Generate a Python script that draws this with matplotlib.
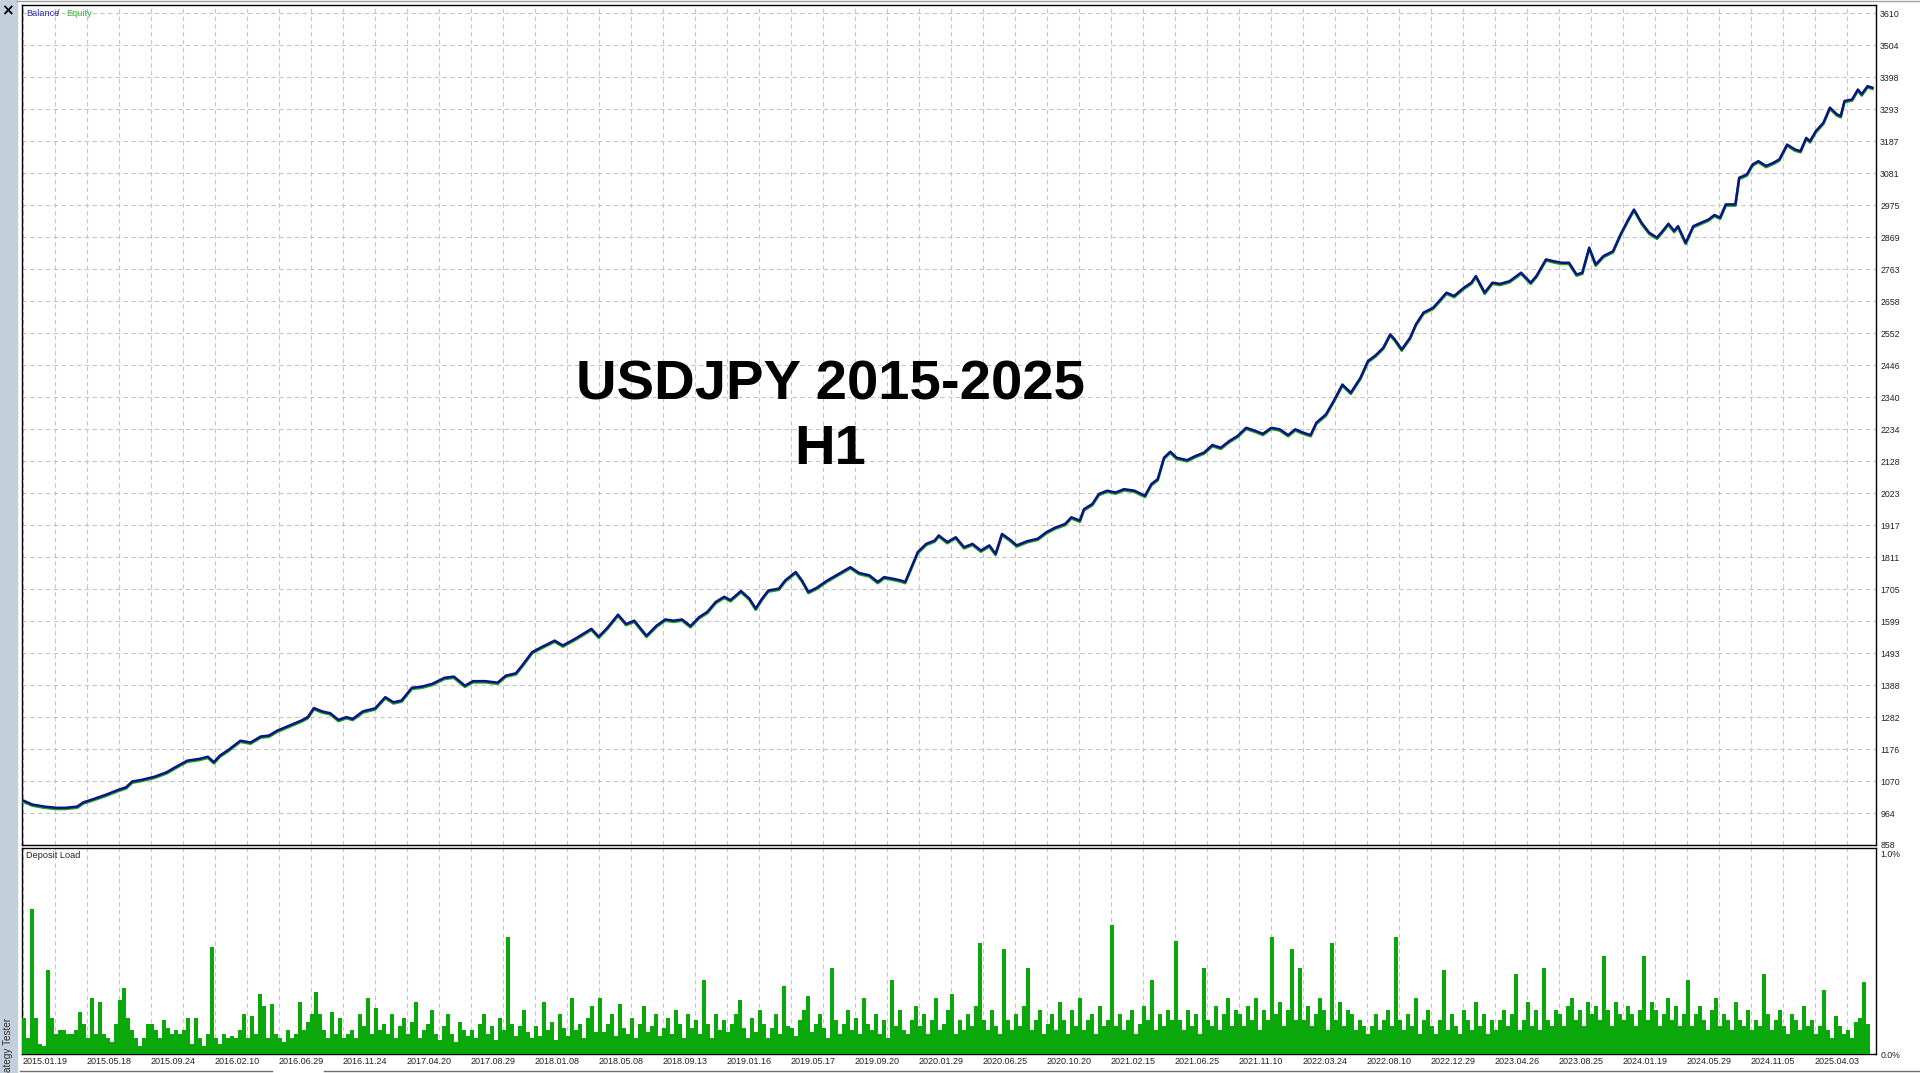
import numpy as np
import matplotlib.pyplot as plt
import matplotlib.transforms as mtransforms
from matplotlib.patches import Rectangle

plt.rcParams['font.family'] = ['Liberation Sans', 'DejaVu Sans']

# balance curve (x = position along the deal axis)
balance_x = [1.3, 10.2, 22.5, 34.7, 42.9, 55.1, 61.3, 71.5, 83.7, 96, 104.1, 110.2, 120.4, 132.7,
             144.9, 153.1, 165.3, 177.6, 185.8, 191.9, 198, 206.2, 218.4, 228.6, 238.8, 247, 255.1,
             267.4, 279.6, 285.8, 291.9, 300, 308.2, 316.4, 324.5, 330.7, 340.9, 353.1, 363.3, 371.5,
             379.6, 389.8, 400, 410.2, 422.5, 431.9, 442.9, 451.1, 463.3, 475.6, 483.7, 493.9, 500,
             510.2, 520.4, 532.7, 540.9, 553.1, 569.4, 576.8, 585.8, 596, 604.1, 612.3, 624.5, 634.7,
             643.3, 651.7, 660.1, 668.5, 676.9, 685.3, 693.8, 702.2, 708.5, 719, 727.4, 733.7, 740.1,
             746.4, 756.9, 763.2, 773.7, 780, 786.4, 794.8, 805.3, 815.8, 828.4, 836.9, 847.4, 855.8,
             862.1, 870.5, 878.9, 883.2, 889.5, 895.8, 904.2, 912.6, 916.8, 925.3, 933.7, 942.1, 950.5,
             958.9, 967.3, 973.6, 980, 988.4, 994.7, 1005.2, 1015.7, 1024.1, 1032.6, 1043.1, 1049.4,
             1057.8, 1062, 1070.4, 1076.8, 1085.2, 1093.6, 1102, 1112.5, 1123, 1129.4, 1135.7, 1142,
             1148.3, 1154.6, 1165.1, 1173.6, 1182, 1190.4, 1198.8, 1207.2, 1215.6, 1224.1, 1232.5,
             1240.9, 1249.3, 1257.7, 1266.1, 1273.3, 1281, 1288.6, 1294.4, 1303.9, 1311.6, 1320.4,
             1328.8, 1338.4, 1346, 1353.7, 1361.3, 1368.2, 1372.8, 1379.7, 1388.1, 1393.9, 1401.5,
             1411.1, 1418.7, 1424.5, 1432.1, 1441.7, 1449.4, 1453.9, 1462.7, 1470.4, 1478.1, 1487.6,
             1499.1, 1508.7, 1514.4, 1524, 1531.6, 1539.3, 1547, 1554.6, 1560.3, 1567.2, 1573.7,
             1581.4, 1591, 1598.6, 1606.3, 1612, 1619.6, 1627.3, 1635, 1640.7, 1646.4, 1652.2, 1656,
             1663.7, 1671.3, 1679, 1686.6, 1692.4, 1698.1, 1703.8, 1713.4, 1717.2, 1724.9, 1730.6,
             1736.4, 1744, 1751.7, 1757.4, 1765.1, 1772.7, 1778.5, 1784.2, 1788, 1793.8, 1801.4,
             1807.9, 1814.8, 1818.7, 1822.5, 1830.1, 1835.9, 1839.7, 1845.5, 1850.4]
balance = [1005, 992, 985, 981, 981, 985, 999, 1010, 1024, 1040, 1049, 1068, 1074, 1084,
           1099, 1115, 1137, 1143, 1150, 1132, 1154, 1172, 1203, 1197, 1217, 1220, 1236,
           1253, 1270, 1281, 1311, 1300, 1294, 1272, 1281, 1275, 1300, 1310, 1347, 1330,
           1336, 1378, 1382, 1391, 1411, 1415, 1385, 1400, 1400, 1395, 1418, 1426, 1451,
           1496, 1514, 1534, 1518, 1540, 1573, 1547, 1578, 1620, 1589, 1600, 1550, 1584,
           1604, 1600, 1604, 1582, 1611, 1629, 1662, 1679, 1668, 1698, 1673, 1640, 1673,
           1700, 1706, 1733, 1761, 1733, 1695, 1709, 1733, 1753, 1777, 1758, 1750, 1728,
           1744, 1739, 1733, 1728, 1777, 1827, 1854, 1865, 1882, 1860, 1876, 1843, 1854,
           1832, 1849, 1821, 1887, 1867, 1849, 1863, 1871, 1892, 1907, 1920, 1942,
           1931, 1969, 1986, 2019, 2030, 2024, 2035, 2030, 2013, 2052, 2068, 2139,
           2159, 2139, 2131, 2145, 2156, 2181, 2172, 2194, 2211, 2238, 2229,
           2218, 2238, 2233, 2214, 2233, 2222, 2214, 2255, 2282, 2326, 2381,
           2354, 2403, 2459, 2478, 2503, 2547, 2530, 2497, 2536, 2580, 2619,
           2635, 2663, 2685, 2674, 2701, 2718, 2740, 2685, 2718, 2714, 2723,
           2751, 2718, 2740, 2795, 2789, 2784, 2784, 2745, 2751, 2834, 2778,
           2806, 2822, 2878, 2927, 2960, 2916, 2883, 2867, 2889, 2913, 2889, 2905,
           2850, 2905, 2916, 2927, 2942, 2933, 2977, 2977, 3065, 3076, 3109,
           3120, 3104, 3115, 3126, 3175, 3159, 3153, 3197, 3186, 3219, 3247,
           3297, 3275, 3269, 3319, 3324, 3357, 3341, 3368, 3363]

y_labels = ['858', '964', '1070', '1176', '1282', '1388', '1493', '1599', '1705', '1811',
            '1917', '2023', '2128', '2234', '2340', '2446', '2552', '2658', '2763', '2869',
            '2975', '3081', '3187', '3293', '3398', '3504', '3610']

date_labels = ['2015.01.19', '2015.05.18', '2015.09.24', '2016.02.10', '2016.06.29', '2016.11.24',
               '2017.04.20', '2017.08.29', '2018.01.08', '2018.05.08', '2018.09.13', '2019.01.16',
               '2019.05.17', '2019.09.20', '2020.01.29', '2020.06.25', '2020.10.20', '2021.02.15',
               '2021.06.25', '2021.11.10', '2022.03.24', '2022.08.10', '2022.12.29', '2023.04.26',
               '2023.08.25', '2024.01.19', '2024.05.29', '2024.11.05', '2025.04.03']

# deposit load in hundredths of a percent, one row per date interval
load_rows = [
    [18, 8, 72, 18, 5, 4, 42, 18, 10, 12, 12, 10, 10, 12, 21, 15],
    [8, 28, 10, 26, 10, 8, 6, 15, 27, 33, 18, 12, 8, 4, 8, 15],
    [15, 12, 8, 17, 13, 10, 12, 10, 12, 18, 5, 18, 8, 4, 10, 53],
    [8, 5, 10, 8, 9, 8, 12, 20, 8, 19, 10, 30, 24, 8, 25, 10],
    [8, 6, 12, 8, 10, 26, 12, 16, 20, 31, 20, 12, 8, 21, 10, 18],
    [8, 10, 12, 8, 20, 14, 28, 10, 23, 12, 15, 10, 20, 8, 14, 18],
    [10, 16, 26, 8, 12, 15, 22, 10, 7, 14, 20, 10, 6, 16, 12, 9],
    [12, 8, 15, 20, 10, 14, 7, 18, 12, 58, 15, 9, 14, 22, 11, 8],
    [14, 9, 26, 12, 16, 7, 20, 13, 9, 28, 12, 15, 8, 18, 24, 11],
    [28, 11, 15, 20, 9, 25, 13, 10, 18, 8, 15, 24, 11, 14, 20, 9],
    [13, 18, 10, 22, 15, 8, 20, 13, 17, 10, 37, 15, 8, 20, 12, 17],
    [11, 15, 20, 27, 13, 8, 18, 11, 22, 15, 8, 13, 20, 10, 34, 14],
    [13, 9, 17, 22, 29, 11, 15, 20, 13, 8, 43, 17, 10, 15, 22, 12],
    [18, 10, 28, 15, 12, 20, 10, 17, 8, 37, 14, 22, 12, 10, 17, 24],
    [14, 20, 10, 17, 28, 12, 15, 22, 30, 10, 17, 12, 20, 14, 24, 55],
    [17, 12, 22, 14, 10, 52, 17, 12, 20, 14, 24, 43, 12, 17, 22, 10],
    [15, 20, 12, 26, 17, 10, 22, 14, 28, 12, 17, 20, 10, 24, 14, 17],
    [64, 14, 20, 12, 17, 22, 10, 15, 24, 17, 37, 12, 20, 14, 22, 17],
    [56, 17, 12, 22, 14, 20, 10, 43, 17, 14, 24, 12, 20, 28, 14, 22],
    [20, 14, 24, 17, 28, 12, 22, 17, 58, 20, 26, 14, 22, 52, 17, 43],
    [17, 24, 14, 20, 28, 22, 12, 55, 17, 26, 14, 22, 20, 12, 17, 14],
    [10, 14, 20, 12, 17, 22, 14, 58, 17, 12, 20, 14, 28, 10, 17, 22],
    [14, 10, 17, 42, 12, 20, 14, 10, 22, 17, 12, 26, 14, 20, 10, 17],
    [12, 17, 22, 14, 20, 40, 12, 17, 26, 14, 22, 12, 43, 17, 14, 22],
    [20, 14, 24, 28, 17, 22, 14, 26, 20, 24, 17, 49, 22, 14, 26, 20],
    [17, 24, 20, 14, 22, 49, 17, 26, 22, 14, 20, 28, 17, 24, 14, 20],
    [37, 14, 20, 24, 17, 12, 22, 28, 14, 20, 17, 12, 26, 17, 14, 22],
    [12, 17, 14, 40, 20, 12, 17, 22, 14, 10, 20, 17, 12, 24, 14, 17],
    [10, 14, 32, 12, 8, 19, 14, 10, 12, 8, 16, 18, 36, 15],
]
load = np.concatenate([np.array(r) for r in load_rows]) / 100.0
load_x = 2 + 4 * np.arange(len(load))

W, H = 1920, 1073
fig = plt.figure(figsize=(W / 100, H / 100), dpi=100)
fig.patch.set_facecolor('white')

X_MAX = 1854
grid_x = np.arange(1, X_MAX, 32)
grid_kw = dict(color='#c6c6c6', linestyle=(0, (4, 3)), linewidth=0.8)

# upper pane: balance / equity
ax = fig.add_axes([22 / W, 1 - 845 / H, 1854 / W, 840 / H])
shift = mtransforms.ScaledTranslation(0, -0.012, fig.dpi_scale_trans)
ax.plot(balance_x, balance, color='#1fa51f', lw=1.9, transform=ax.transData + shift, zorder=3)
ax.plot(balance_x, balance, color='#0a1482', lw=1.8, zorder=4)
ax.set_xlim(0, X_MAX)
ax.set_ylim(858, 3636.5)
ax.set_xticks(grid_x)
ax.set_yticks(np.linspace(858, 3610, 27))
ax.set_yticklabels(y_labels)
ax.yaxis.tick_right()
ax.tick_params(axis='both', length=0, labelbottom=False, labelsize=6.3, colors='#222222', pad=3)
ax.grid(True, **grid_kw)
for s in ax.spines.values():
    s.set_color('black')
    s.set_linewidth(1.0)

# lower pane: deposit load
ax2 = fig.add_axes([22 / W, 1 - 1054 / H, 1854 / W, 206 / H])
ax2.bar(load_x, load, width=3.5, color='#0ba80b', linewidth=0, zorder=3)
ax2.set_xlim(0, X_MAX)
ax2.set_ylim(0, 1.025)
ax2.set_xticks(grid_x)
ax2.set_xticklabels([date_labels[i // 2] if i % 2 == 0 else '' for i in range(len(grid_x))],
                    ha='left')
ax2.set_yticks([0, 1.0])
ax2.set_yticklabels(['0.0%', '1.0%'])
ax2.yaxis.tick_right()
ax2.tick_params(axis='both', length=0, labelsize=6.3, colors='#222222', pad=3)
ax2.tick_params(axis='x', labelsize=6.5, pad=2)
ax2.grid(True, axis='x', **grid_kw)
for s in ax2.spines.values():
    s.set_color('black')
    s.set_linewidth(1.0)

# pane captions
fig.text(26 / W, 1 - 14 / H, 'Balance', color='#2b2ba8', fontsize=6.6, va='center')
fig.text(57 / W, 1 - 14 / H, '/', color='#444444', fontsize=6.6, va='center')
fig.text(66 / W, 1 - 14 / H, 'Equity', color='#3cb43c', fontsize=6.6, va='center')
fig.text(26 / W, 1 - 856 / H, 'Deposit Load', color='#222222', fontsize=6.6, va='center')

# big overlay title
fig.text(830 / W, 1 - 386 / H, 'USDJPY 2015-2025', ha='center', va='center',
         fontsize=40.5, fontweight='bold', color='black')
fig.text(830 / W, 1 - 450 / H, 'H1', ha='center', va='center',
         fontsize=40.5, fontweight='bold', color='black')

# terminal frame bits
fig.patches.append(Rectangle((0, 0), 17 / W, 1, transform=fig.transFigure,
                             color='#c4cfdc', zorder=0))
fig.text(7 / W, 1 - 11 / H, '\u00d7', fontsize=11, fontweight='bold', ha='center', va='center',
         family='DejaVu Sans')
fig.text(8 / W, 1 - 1072 / H, 'ategy Tester', rotation=90, ha='center', va='bottom',
         fontsize=7.2, color='#333333')
fig.add_artist(plt.Line2D([17 / W, 1], [1 - 1 / H, 1 - 1 / H], transform=fig.transFigure,
                          color='#a0a0a0', lw=1))
fig.add_artist(plt.Line2D([20 / W, 272 / W], [1 - 1071 / H] * 2, transform=fig.transFigure,
                          color='#707070', lw=1))
fig.add_artist(plt.Line2D([324 / W, 1], [1 - 1071 / H] * 2, transform=fig.transFigure,
                          color='#707070', lw=1))

fig.savefig('out.png', dpi=100)
